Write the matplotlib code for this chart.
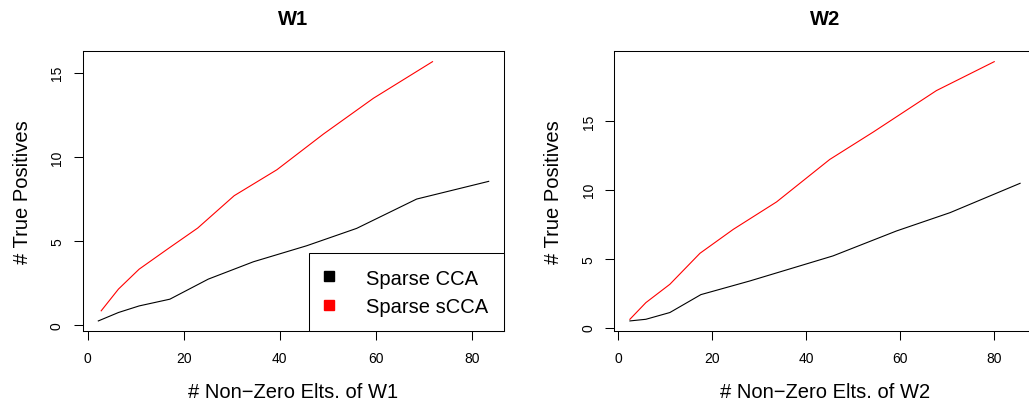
import matplotlib
matplotlib.use("Agg")
import matplotlib.pyplot as plt
from matplotlib.lines import Line2D

plt.rcParams['font.family'] = ['Liberation Sans', 'DejaVu Sans']

# W1: number of non-zero elements vs. true positives
w1_nz_cca = [2.2, 6.4, 10.7, 17.1, 25.1, 34.5, 45.6, 56.0, 68.5, 83.5]
w1_tp_cca = [0.27, 0.77, 1.16, 1.56, 2.75, 3.78, 4.73, 5.76, 7.50, 8.55]
w1_nz_scca = [2.8, 6.4, 10.7, 16.8, 22.9, 30.5, 39.4, 49.1, 59.5, 71.8]
w1_tp_scca = [0.87, 2.16, 3.34, 4.57, 5.78, 7.70, 9.24, 11.36, 13.48, 15.65]

# W2
w2_nz_cca = [2.5, 5.9, 11.0, 17.6, 28.0, 45.7, 59.2, 70.6, 85.5]
w2_tp_cca = [0.48, 0.60, 1.09, 2.39, 3.38, 5.20, 7.01, 8.34, 10.47]
w2_nz_scca = [2.5, 5.9, 11.0, 17.4, 24.5, 33.7, 45.0, 54.3, 67.7, 80.0]
w2_tp_scca = [0.60, 1.81, 3.14, 5.39, 7.13, 9.12, 12.2, 14.2, 17.2, 19.3]

methods = ["Sparse CCA", "Sparse sCCA"]
colors = ["black", "red"]
titles = ["W1", "W2"]
xlabels = ["# Non\u2212Zero Elts. of W1", "# Non\u2212Zero Elts. of W2"]
xticks = [0, 20, 40, 60, 80]
yticks = [0, 5, 10, 15]

W, H = 1029, 406
fig = plt.figure(figsize=(W / 100, H / 100), dpi=100)

boxes = [
    (82.7, 52.3, 504.3, 332.3),
    (614.3, 52.3, 1035.7, 332.3),
]
panels = [
    ((w1_nz_cca, w1_tp_cca), (w1_nz_scca, w1_tp_scca)),
    ((w2_nz_cca, w2_tp_cca), (w2_nz_scca, w2_tp_scca)),
]


def r_range(vals):
    lo, hi = min(vals), max(vals)
    d = (hi - lo) * 0.04
    return lo - d, hi + d


for i, (box, series) in enumerate(zip(boxes, panels)):
    x0, y0, x1, y1 = box
    ax = fig.add_axes([x0 / W, 1 - y1 / H, (x1 - x0) / W, (y1 - y0) / H])
    allx, ally = [], []
    for (xs, ys), c in zip(series, colors):
        ax.plot(xs, ys, color=c, lw=0.8)
        allx += xs
        ally += ys
    ax.set_xlim(*r_range(allx))
    ax.set_ylim(*r_range(ally))
    ax.set_xticks(xticks)
    ax.set_yticks(yticks)
    ax.set_yticklabels([str(t) for t in yticks], rotation=90, va='center')
    ax.tick_params(direction='out', length=6.5, width=0.75, labelsize=10,
                   colors='black')
    ax.tick_params(axis='x', pad=8)
    ax.tick_params(axis='y', pad=7)
    for s in ax.spines.values():
        s.set_linewidth(0.75)
    ax.set_title(titles[i], fontsize=14.5, fontweight='bold', pad=20)
    ax.set_xlabel(xlabels[i], fontsize=14.5, labelpad=12)
    ax.set_ylabel("# True Positives", fontsize=14.5, labelpad=13)

    if i == 0:
        handles = [Line2D([], [], ls='none', marker='s', markersize=7,
                          markerfacecolor=c, markeredgecolor=c)
                   for c in colors]
        leg = ax.legend(handles, methods, loc='lower right', fontsize=14.5,
                        fancybox=False, framealpha=1, edgecolor='black',
                        borderaxespad=0, borderpad=0.78, handlelength=0.4,
                        handletextpad=1.65, labelspacing=0.45)
        leg.get_frame().set_linewidth(0.75)

fig.savefig("out.png", dpi=100)
